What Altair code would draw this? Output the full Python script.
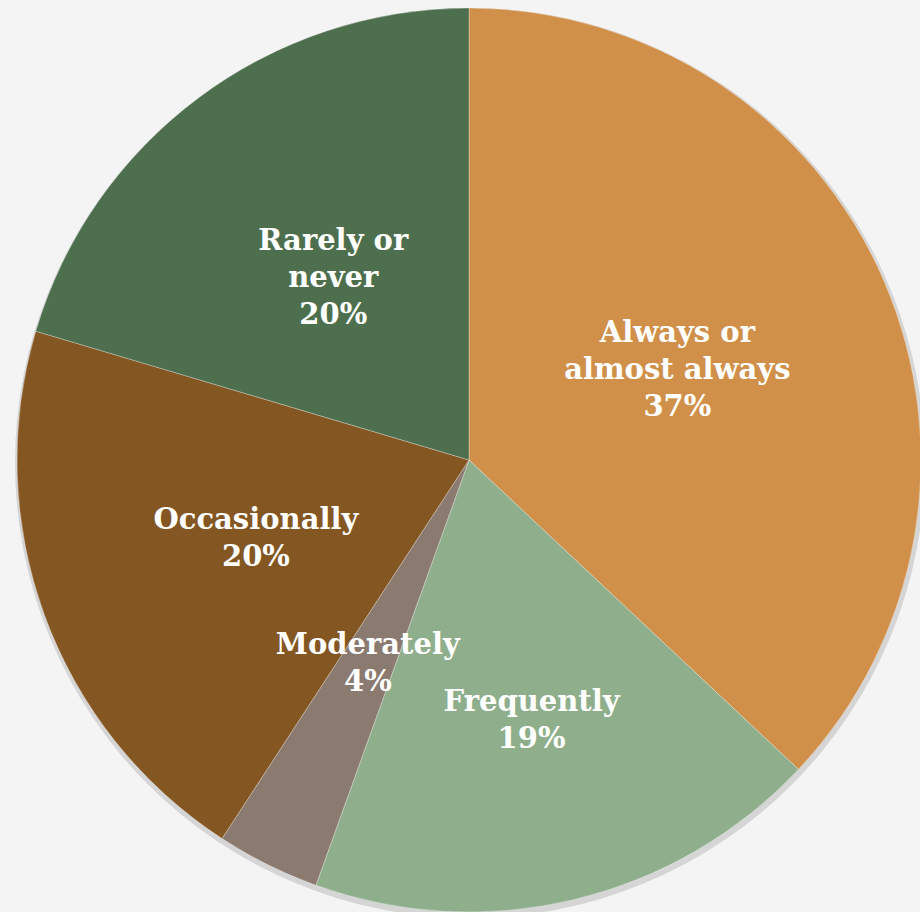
import altair as alt
import pandas as pd

categories = ["Always or almost always", "Frequently", "Moderately", "Occasionally", "Rarely or never"]
values = [37.0, 18.5, 3.7, 20.4, 20.4]
pct_labels = ["37%", "19%", "4%", "20%", "20%"]
label_lines = ["Always or\nalmost always", "Frequently", "Moderately", "Occasionally", "Rarely or\nnever"]
colors = ["#D0904A", "#8FAF8C", "#8A7A6F", "#845622", "#4E6F4E"]

df = pd.DataFrame({
    "cat": categories,
    "value": values,
    "order": list(range(len(categories))),
    "label": [f"{a}\n{b}" for a, b in zip(label_lines, pct_labels)],
})

cx, cy, R = 469, 460, 452
LH = 37
tscale = alt.Scale(domain=[0, 100], range=[0, 6.283185307179586])

base = alt.Chart(df).transform_window(
    cum="sum(value)", sort=[alt.SortField("order")], frame=[None, 0]
).transform_calculate(
    start="datum.cum - datum.value",
    mid="datum.cum - datum.value / 2",
    lr="datum.cat == 'Frequently' ? 268 : 227",
    nlines="length(split(datum.label, '\\n'))",
)

shadow = alt.Chart(pd.DataFrame({"a": [0], "b": [100]})).mark_arc(
    fill="#9a9a9a", opacity=0.35
).encode(
    theta=alt.Theta("a:Q", scale=tscale),
    theta2="b:Q",
    x=alt.value(cx + 1), y=alt.value(cy + 3),
    radius=alt.value(R + 3),
)

pie = base.mark_arc(stroke="#ffffff", strokeWidth=0.6, strokeOpacity=0.5).encode(
    theta=alt.Theta("start:Q", scale=tscale),
    theta2="cum:Q",
    color=alt.Color("cat:N", scale=alt.Scale(domain=categories, range=colors), legend=None),
    x=alt.value(cx), y=alt.value(cy),
    radius=alt.value(R),
)


def text_layer(n):
    return base.transform_filter(alt.datum.nlines == n).mark_text(
        font="DejaVu Serif", fontWeight="bold", fontSize=29, color="white",
        lineBreak="\n", lineHeight=LH, align="center", baseline="middle",
        dy=-(n - 1) * LH / 2,
    ).encode(
        theta=alt.Theta("mid:Q", scale=tscale),
        text="label:N",
        x=alt.value(cx), y=alt.value(cy),
        radius=alt.Radius("lr:Q", scale=None),
    )


chart = alt.layer(shadow, pie, text_layer(2), text_layer(3)).properties(
    width=920, height=912, padding=0,
    autosize=alt.AutoSizeParams(type="none"),
    background="#f4f4f4",
).configure_view(stroke=None)

chart.save("out.html", embed_options={"renderer": "svg", "actions": False})
